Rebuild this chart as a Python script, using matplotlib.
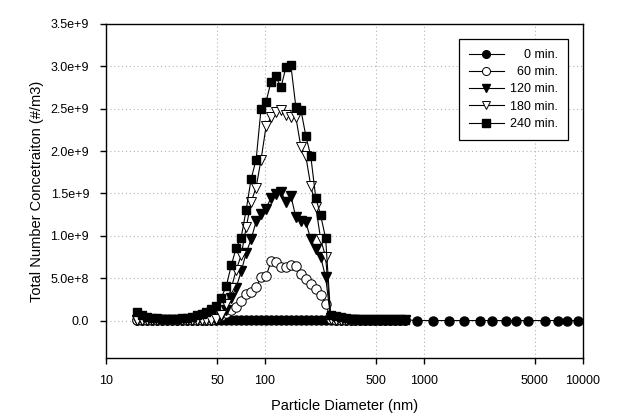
import numpy as np
import matplotlib
matplotlib.use("Agg")
import matplotlib.pyplot as plt
from matplotlib.ticker import FixedLocator, FixedFormatter, NullLocator

plt.rcParams['font.family'] = ['Liberation Sans', 'DejaVu Sans']

# SMPS size bins (nm), 32 channels per decade
diam = [15.7, 16.8, 18.1, 19.5, 20.9, 22.5, 24.1, 25.9, 27.9, 30.0,
        32.2, 34.6, 37.2, 40.0, 42.9, 46.1, 49.6, 53.3, 57.3, 61.5,
        66.1, 71.0, 76.4, 82.0, 88.2, 94.7, 101.8, 109.4, 117.6, 126.3,
        135.8, 145.9, 156.8, 168.5, 181.1, 194.6, 209.1, 224.7, 241.4, 259.5,
        278.8, 299.6, 322.0, 346.0, 371.8, 399.5, 429.4, 461.4, 495.8, 532.8,
        572.5, 615.3, 661.2, 710.5, 763.5]
# extra coarse bins only in the 0 min run
diam_big = [900, 1150, 1450, 1800, 2250, 2700, 3300, 3800, 4500, 5800, 7000, 8000, 9300]

# concentrations in 1e9 #/m3
c0 = [0.01] * 55
c0_big = [0.0] * 13
c60 = [0.01, 0.01, 0.01, 0.01, 0.01, 0.01, 0.01, 0.01, 0.01, 0.01,
       0.01, 0.01, 0.01, 0.01, 0.01, 0.01, 0.03, 0.05, 0.09, 0.13,
       0.16, 0.23, 0.31, 0.34, 0.40, 0.51, 0.52, 0.70, 0.69, 0.63,
       0.63, 0.65, 0.64, 0.55, 0.49, 0.43, 0.37, 0.30, 0.20, 0.02,
       0.01, 0.01, 0.01, 0.01, 0.01, 0.01, 0.01, 0.01, 0.01, 0.01,
       0.01, 0.01, 0.01, 0.01, 0.01]
c120 = [0.01, 0.01, 0.01, 0.01, 0.01, 0.01, 0.01, 0.01, 0.01, 0.01,
        0.01, 0.01, 0.01, 0.01, 0.01, 0.01, 0.01, 0.05, 0.13, 0.27,
        0.39, 0.58, 0.80, 0.96, 1.17, 1.26, 1.32, 1.45, 1.49, 1.52,
        1.40, 1.47, 1.22, 1.17, 1.16, 0.96, 0.84, 0.75, 0.51, 0.03,
        0.01, 0.01, 0.01, 0.01, 0.01, 0.01, 0.01, 0.01, 0.01, 0.01,
        0.01, 0.01, 0.01, 0.01, 0.01]
c180 = [0.01, 0.01, 0.01, 0.01, 0.01, 0.01, 0.01, 0.01, 0.01, 0.01,
        0.01, 0.01, 0.01, 0.01, 0.01, 0.01, 0.02, 0.06, 0.20, 0.38,
        0.60, 0.77, 1.10, 1.40, 1.57, 1.90, 2.29, 2.40, 2.46, 2.49,
        2.42, 2.40, 2.40, 2.05, 1.94, 1.59, 1.34, 0.96, 0.75, 0.02,
        0.01, 0.01, 0.01, 0.01, 0.01, 0.01, 0.01, 0.01, 0.01, 0.01,
        0.01, 0.01, 0.01, 0.01, 0.01]
c240 = [0.10, 0.06, 0.04, 0.03, 0.03, 0.02, 0.02, 0.02, 0.02, 0.03,
        0.03, 0.04, 0.06, 0.08, 0.10, 0.14, 0.17, 0.27, 0.41, 0.65,
        0.86, 0.98, 1.31, 1.67, 1.90, 2.50, 2.58, 2.82, 2.88, 2.75,
        2.99, 3.01, 2.52, 2.49, 2.18, 1.94, 1.45, 1.24, 0.97, 0.06,
        0.05, 0.04, 0.03, 0.02, 0.02, 0.01, 0.01, 0.01, 0.01, 0.01,
        0.01, 0.01, 0.01, 0.01, 0.01]

labels = ["\u2007\u20070 min.", "\u200760 min.", "120 min.", "180 min.", "240 min."]
xticks = [10, 50, 100, 500, 1000, 5000, 10000]
yticks = [0, 0.5e9, 1.0e9, 1.5e9, 2.0e9, 2.5e9, 3.0e9, 3.5e9]
ytick_labels = ["0.0", "5.0e+8", "1.0e+9", "1.5e+9", "2.0e+9", "2.5e+9", "3.0e+9", "3.5e+9"]

fig = plt.figure(figsize=(6.3, 4.2), dpi=100)
ax = fig.add_axes([0.168, 0.148, 0.757, 0.795])

lw = 0.8
ax.plot(diam + diam_big, np.array(c0 + c0_big) * 1e9, color='black', lw=lw,
        marker='o', ms=6.5, mfc='black', mec='black', label=labels[0], zorder=3)
ax.plot(diam, np.array(c60) * 1e9, color='black', lw=lw,
        marker='o', ms=6.8, mfc='white', mec='black', mew=0.7, label=labels[1], zorder=3)
ax.plot(diam, np.array(c120) * 1e9, color='black', lw=lw,
        marker='v', ms=7, mfc='black', mec='black', label=labels[2], zorder=3)
ax.plot(diam, np.array(c180) * 1e9, color='black', lw=lw,
        marker='v', ms=7, mfc='white', mec='black', mew=0.7, label=labels[3], zorder=3)
ax.plot(diam, np.array(c240) * 1e9, color='black', lw=lw,
        marker='s', ms=6.3, mfc='black', mec='black', label=labels[4], zorder=3)

ax.set_xscale('log')
ax.set_xlim(10, 10000)
ax.set_ylim(-4.4e8, 3.5e9)
ax.xaxis.set_major_locator(FixedLocator(xticks))
ax.xaxis.set_major_formatter(FixedFormatter([str(t) for t in xticks]))
ax.xaxis.set_minor_locator(NullLocator())
ax.yaxis.set_major_locator(FixedLocator(yticks))
ax.yaxis.set_major_formatter(FixedFormatter(ytick_labels))
ax.tick_params(direction='out', length=4, width=1, labelsize=9, pad=8)

ax.grid(True, linestyle=(0, (1, 2.5)), color='#b3b3b3', linewidth=0.8)
ax.set_axisbelow(True)
for s in ax.spines.values():
    s.set_linewidth(1.0)

ax.set_xlabel("Particle Diameter (nm)", fontsize=10.5, labelpad=9)
ax.set_ylabel("Total Number Concetraiton (#/m3)", fontsize=10.5, labelpad=5)

leg = ax.legend(loc='upper right', bbox_to_anchor=(0.969, 0.955), borderaxespad=0,
                fontsize=9, fancybox=False, framealpha=1, edgecolor='black',
                handlelength=2.8, handletextpad=0.5, labelspacing=0.42, borderpad=0.8,
                markerscale=0.85)
leg.get_frame().set_linewidth(0.9)

fig.savefig("out.png", dpi=100)
